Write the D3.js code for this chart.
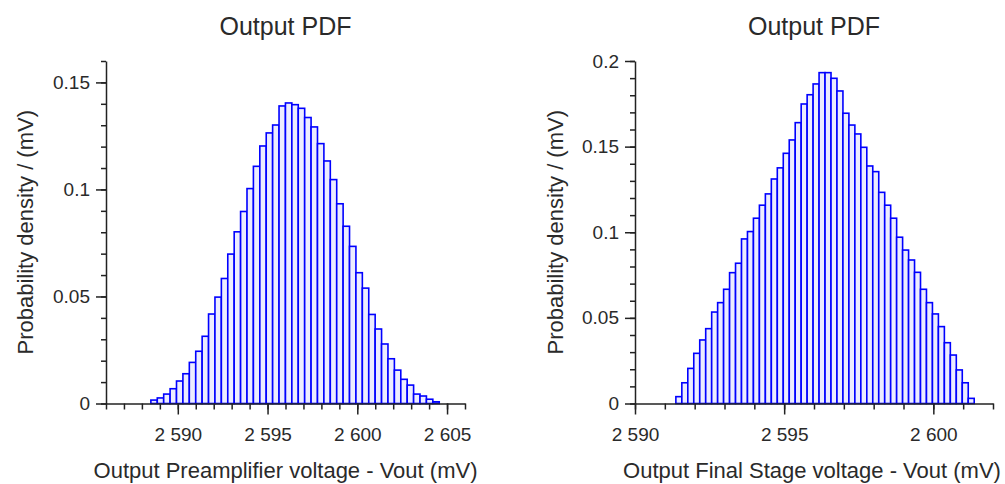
<!DOCTYPE html>
<html>
<head>
<meta charset="utf-8">
<title>Output PDF</title>
<script src="https://cdnjs.cloudflare.com/ajax/libs/d3/7.8.5/d3.min.js"></script>
<style>
  html, body { margin: 0; padding: 0; background: #fff; }
  svg { display: block; font-family: "Liberation Sans", Arial, sans-serif; }
  .title { font-size: 25px; fill: #2a2a2a; }
  .axis-title { font-size: 22px; fill: #2a2a2a; }
  .tick-label { font-size: 19px; fill: #2a2a2a; }
</style>
</head>
<body>
<svg id="chart" width="1005" height="484"></svg>
<script>
// left panel: preamplifier output
const preStart = 2588.5;
const preBinWidth = 0.357;
const preDensity = [
  0.0016, 0.0026, 0.0044, 0.0069, 0.0105, 0.0139, 0.0192, 0.0244, 0.0314, 0.0418,
  0.0497, 0.0584, 0.0698, 0.0802, 0.0897, 0.1004, 0.1108, 0.1203, 0.1264, 0.1301,
  0.1390, 0.1404, 0.1396, 0.1379, 0.1336, 0.1292, 0.1214, 0.1133, 0.1046, 0.0933,
  0.0828, 0.0734, 0.0611, 0.0539, 0.0416, 0.0348, 0.0278, 0.0209, 0.0156, 0.0113,
  0.0086, 0.0044, 0.0035, 0.0020, 0.0008
];
const preXDomain = [2586, 2606];
const preYDomain = [0, 0.16];
const preXTicks = [2590, 2595, 2600, 2605];
const preYTicks = [0, 0.05, 0.1, 0.15];

// right panel: final stage output
const finStart = 2591.37;
const finBinWidth = 0.2;
const finDensity = [
  0.0040, 0.0121, 0.0205, 0.0293, 0.0371, 0.0437, 0.0534, 0.0589, 0.0667, 0.0764,
  0.0819, 0.0961, 0.1004, 0.1082, 0.1158, 0.1224, 0.1311, 0.1376, 0.1461, 0.1539,
  0.1640, 0.1749, 0.1803, 0.1866, 0.1932, 0.1932, 0.1899, 0.1825, 0.1695, 0.1626,
  0.1574, 0.1496, 0.1387, 0.1354, 0.1233, 0.1158, 0.1082, 0.0971, 0.0896, 0.0838,
  0.0766, 0.0667, 0.0589, 0.0523, 0.0449, 0.0355, 0.0283, 0.0196, 0.0121, 0.0030
];
const finXDomain = [2590, 2602];
const finYDomain = [0, 0.2];
const finXTicks = [2590, 2595, 2600];
const finYTicks = [0, 0.05, 0.1, 0.15, 0.2];

const svg = d3.select("#chart");
const fmtX = d => d3.format(",")(d).replace(",", " ");
const fmtY = d => d3.format("~g")(d);

function drawPanel(p) {
  const x = d3.scaleLinear().domain(p.xDomain).range([p.left, p.right]);
  const y = d3.scaleLinear().domain(p.yDomain).range([p.bottom, p.top]);
  const g = svg.append("g");

  // bars
  const bins = p.values.map((v, i) => ({ x0: p.start + i * p.binWidth, x1: p.start + (i + 1) * p.binWidth, v: v }));
  g.selectAll("rect.bar")
    .data(bins)
    .enter()
    .append("rect")
    .attr("class", "bar")
    .attr("x", d => x(d.x0))
    .attr("width", d => x(d.x1) - x(d.x0))
    .attr("y", d => y(d.v))
    .attr("height", d => y(0) - y(d.v))
    .attr("fill", "rgb(236,236,255)")
    .attr("stroke", "#0000ff")
    .attr("stroke-width", 1.6);

  // x axis: minor ticks every 1, major labelled
  const xMinor = d3.range(p.xDomain[0], p.xDomain[1] + 0.5, 1);
  g.append("g")
    .attr("transform", `translate(0,${p.bottom})`)
    .call(d3.axisBottom(x).tickValues(xMinor).tickSize(6).tickFormat(""))
    .call(a => a.select(".domain").remove());
  const xAxis = g.append("g")
    .attr("transform", `translate(0,${p.bottom})`)
    .call(d3.axisBottom(x).tickValues(p.xTicks).tickSize(11).tickPadding(13).tickFormat(fmtX).tickSizeOuter(0));
  xAxis.selectAll("text").attr("class", "tick-label").attr("font-size", null).attr("font-family", null);

  // y axis: minor ticks every 0.01
  const yMinor = d3.range(0, Math.round(p.yDomain[1] * 100) + 1).map(i => i / 100);
  g.append("g")
    .attr("transform", `translate(${p.left},0)`)
    .call(d3.axisLeft(y).tickValues(yMinor).tickSize(5).tickFormat(""))
    .call(a => a.select(".domain").remove());
  const yAxis = g.append("g")
    .attr("transform", `translate(${p.left},0)`)
    .call(d3.axisLeft(y).tickValues(p.yTicks).tickSize(10).tickPadding(6).tickFormat(fmtY).tickSizeOuter(0));
  yAxis.selectAll("text").attr("class", "tick-label").attr("font-size", null).attr("font-family", null);

  g.selectAll(".domain, .tick line").attr("stroke", "#222").attr("stroke-width", 1.5);
  g.selectAll(".tick text").attr("fill", "#2a2a2a");

  // titles
  const cx = (p.left + p.right) / 2;
  svg.append("text").attr("class", "title").attr("x", cx).attr("y", 35)
    .attr("text-anchor", "middle").text("Output PDF");
  svg.append("text").attr("class", "axis-title").attr("x", cx + p.xLabelShift).attr("y", 478)
    .attr("text-anchor", "middle").text(p.xLabel);
  svg.append("text").attr("class", "axis-title")
    .attr("transform", `translate(${p.yLabelX},${(p.top + p.bottom) / 2}) rotate(-90)`)
    .attr("text-anchor", "middle").text("Probability density / (mV)");
}

drawPanel({
  start: preStart, binWidth: preBinWidth, values: preDensity,
  xDomain: preXDomain, yDomain: preYDomain, xTicks: preXTicks, yTicks: preYTicks,
  left: 106, right: 465, top: 61, bottom: 403.5, yLabelX: 33, xLabelShift: 0,
  xLabel: "Output Preamplifier voltage - Vout (mV)"
});
drawPanel({
  start: finStart, binWidth: finBinWidth, values: finDensity,
  xDomain: finXDomain, yDomain: finYDomain, xTicks: finXTicks, yTicks: finYTicks,
  left: 635, right: 993, top: 61, bottom: 403.5, yLabelX: 563, xLabelShift: -2,
  xLabel: "Output Final Stage voltage - Vout (mV)"
});
</script>
</body>
</html>
